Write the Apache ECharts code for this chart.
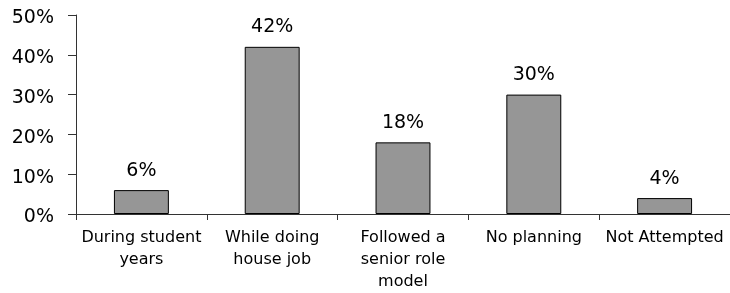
<!DOCTYPE html>
<html>
<head>
<meta charset="utf-8">
<script src="https://cdn.jsdelivr.net/npm/echarts@6/dist/echarts.min.js"></script>
<style>
  html, body { margin: 0; padding: 0; background: #fff; }
  #chart { width: 730px; height: 293px; }
</style>
</head>
<body>
<div id="chart"></div>
<script>
var categories = ['During student\nyears', 'While doing\nhouse job', 'Followed a\nsenior role\nmodel', 'No planning', 'Not Attempted'];
var values = [6, 42, 18, 30, 4];
var yTicks = [0, 10, 20, 30, 40, 50];

var myChart = echarts.init(document.getElementById('chart'));
var option = {
    animation: false,
    grid: {
        left: 76,
        right: -6,
        top: 15,
        bottom: 79
    },
    xAxis: {
        type: 'category',
        data: categories,
        axisLine: { lineStyle: { color: '#333', width: 1 } },
        axisTick: { show: true, length: 6, lineStyle: { color: '#333' } },
        axisLabel: {
            color: '#000',
            fontFamily: 'DejaVu Sans',
            fontSize: 16,
            lineHeight: 22,
            margin: 13,
            interval: 0
        }
    },
    yAxis: {
        type: 'value',
        min: yTicks[0],
        max: yTicks[yTicks.length - 1],
        interval: 10,
        axisLine: { show: true, lineStyle: { color: '#333', width: 1 } },
        axisTick: { show: true, length: 8, lineStyle: { color: '#333' } },
        splitLine: { show: false },
        axisLabel: {
            margin: 22,
            formatter: '{v|{value}%}',
            rich: {
                v: {
                    color: '#000',
                    fontFamily: 'DejaVu Sans',
                    fontSize: 19,
                    padding: [7, 0, 0, 0]
                }
            }
        }
    },
    series: [
        {
            type: 'bar',
            data: values,
            barWidth: '42%',
            itemStyle: {
                color: '#969696',
                borderColor: '#000',
                borderWidth: 1
            },
            label: {
                show: true,
                position: 'top',
                distance: 10,
                color: '#000',
                fontFamily: 'DejaVu Sans',
                fontSize: 19,
                formatter: '{c}%'
            }
        }
    ]
};
myChart.setOption(option);
</script>
</body>
</html>
